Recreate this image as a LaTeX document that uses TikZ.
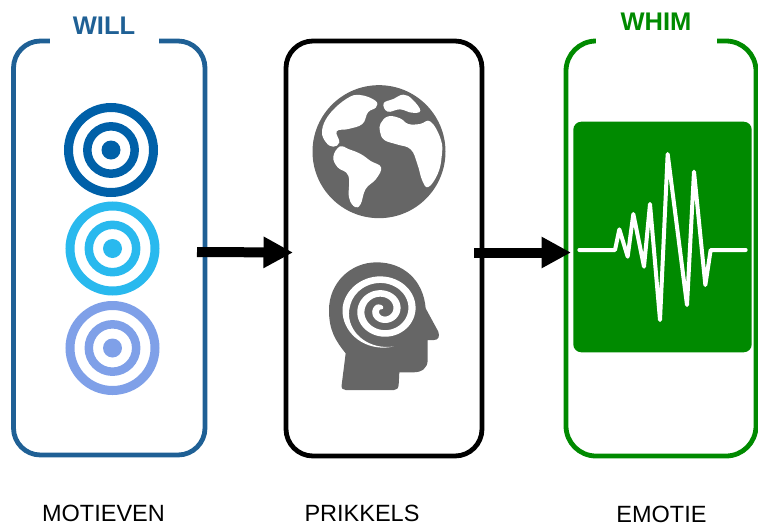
\documentclass[tikz,border=0pt]{standalone}
\usepackage{fontspec}
\setmainfont{Liberation Sans}
\usetikzlibrary{arrows.meta}
\definecolor{willblue}{HTML}{1F6095}
\definecolor{whimgreen}{HTML}{008A00}
\definecolor{icongrey}{HTML}{666666}
\definecolor{tarA}{HTML}{0060A8}
\definecolor{tarB}{HTML}{29B9EE}
\definecolor{tarC}{HTML}{7FA0E8}
\tikzset{
  panel/.style={draw=#1,line width=4.8pt,rectangle,rounded corners=27pt,inner sep=0pt,outer sep=0pt,anchor=north west},
  gapmask/.style={fill=white,draw=none},
  title/.style={font=\bfseries\fontsize{25.5}{30}\selectfont,anchor=base,inner sep=0pt},
  caption/.style={font=\fontsize{23.5}{28}\selectfont,anchor=base,inner sep=0pt,text=black},
  bigarrow/.style={line width=10pt,black,-{Triangle[length=29.5pt,width=29.5pt,sep=0pt]}},
  target/.pic={
    \draw[draw=#1,line width=9pt] (0,0) circle[radius=42.5pt];
    \draw[draw=#1,line width=8.5pt] (0,0) circle[radius=23.7pt];
    \fill[#1] (0,0) circle[radius=9.5pt];
  }
}
\begin{document}
\begin{tikzpicture}[x=1pt,y=-1pt,declare function={sr(\t)=92-.105*(\t-180); sh(\t)=min(9,min((\t-75)*.08,(1020-\t)*.12));}]
\useasboundingbox (0,0) rectangle (758,528);
% panels
\node[panel=willblue,minimum width=191.5pt,minimum height=414pt] (will) at (13.5,41) {};
\node[panel=black,minimum width=196pt,minimum height=415pt] (prik) at (286,41) {};
\node[panel=whimgreen,minimum width=190pt,minimum height=415pt,rounded corners=30pt] (whim) at (566,41) {};
% gaps in the top edges
\fill[gapmask] (50,35) rectangle (159,47);
\fill[gapmask] (596,35) rectangle (717,47);
% titles and captions
\node[title,text=willblue] (willt) at (104,34) {WILL};
\node[title,text=whimgreen] (whimt) at (656,30) {WHIM};
\node[caption] (c1) at (103.5,521) {MOTIEVEN};
\node[caption] (c2) at (362,521) {PRIKKELS};
\node[caption] (c3) at (661.5,522.5) {EMOTIE};
% targets
\pic at (111,150) {target=tarA};
\pic at (112.5,248.5) {target=tarB};
\pic at (112.5,348) {target=tarC};
% globe
\begin{scope}[shift={(280,60)},x=.33333pt,y=-.33333pt]
\fill[icongrey] (297,275) circle[radius=66.5pt];
\fill[white] plot[smooth cycle,tension=.7] coordinates {(126,212)(148,163)(200,116)(240,105)(286,122)(288,142)(264,157)(247,192)(205,207)(170,214)(178,247)(160,260)(138,247)};
\fill[white] plot[smooth cycle,tension=.7] coordinates {(160,290)(180,259)(205,267)(242,282)(272,303)(303,322)(288,357)(257,387)(242,432)(225,441)(207,412)(205,347)(173,322)};
\fill[white] plot[smooth cycle,tension=.7] coordinates {(311,130)(340,117)(370,104)(397,118)(421,152)(395,158)(360,148)(323,155)};
\fill[white] plot[smooth cycle,tension=.7] coordinates {(302,190)(325,169)(360,175)(385,192)(420,192)(452,185)(483,240)(485,290)(473,342)(445,381)(427,362)(412,312)(392,268)(350,253)(313,240)(300,215)};
% head
\fill[icongrey] (185,975) -- (197,880) .. controls (165,840) and (147,810) .. (147,750)
  .. controls (147,670) and (210,607) .. (290,607)
  .. controls (370,607) and (430,660) .. (437,745)
  -- (475,815) .. controls (480,830) and (475,840) .. (462,840) -- (443,840) -- (443,900)
  .. controls (443,925) and (425,937) .. (400,937) -- (358,937) -- (356,975)
  .. controls (355,985) and (350,990) .. (342,990) -- (197,990) .. controls (188,990) and (184,985) .. (185,975) -- cycle;
% spiral: a band that tapers at both ends
\fill[white] plot[domain=75:1000,samples=160,smooth,variable=\t] ({308+1.2*(sr(\t)+sh(\t))*cos(\t)},{750+1.1*(sr(\t)+sh(\t))*sin(\t)})
  -- plot[domain=1000:75,samples=160,smooth,variable=\t] ({308+1.2*(sr(\t)-sh(\t))*cos(\t)},{750+1.1*(sr(\t)-sh(\t))*sin(\t)}) -- cycle;
\end{scope}
% green pulse panel
\fill[whimgreen,rounded corners=8pt] (573.3,121.7) rectangle (751.7,352.3);
\begin{scope}[shift={(560,110)},x=.33333pt,y=-.33333pt]
\draw[white,line width=4pt,line join=round,line cap=round] (58,420) -- (165,420) -- (178,358) -- (203,440) -- (220,312) -- (252,470) -- (270,282) -- (300,630) -- (323,132) -- (381,585) -- (402,185) -- (436,525) -- (452,420) -- (557,420);
\end{scope}
% arrows
\draw[bigarrow] ([xshift=-8pt,yshift=-4pt]will.east) -- ([xshift=7pt,yshift=-4pt]prik.west);
\draw[bigarrow] ([xshift=-8pt,yshift=-4pt]prik.east) -- ([xshift=5pt,yshift=-4pt]whim.west);
\end{tikzpicture}
\end{document}
